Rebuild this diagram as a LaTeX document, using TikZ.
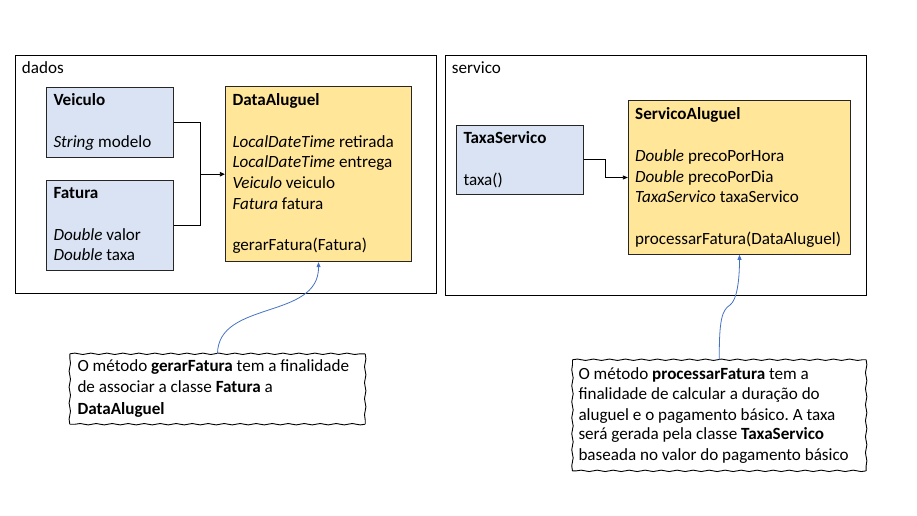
\documentclass[tikz,border=0pt]{standalone}
\usepackage{fontspec}
\setmainfont{Carlito}
\frenchspacing
\usetikzlibrary{arrows.meta,decorations.pathmorphing}
\definecolor{cblue}{HTML}{DAE3F3}
\definecolor{cyellow}{HTML}{FFE699}
\definecolor{clink}{HTML}{4472C4}
\tikzset{
  container/.style={draw=black,line width=0.9pt,inner sep=0pt},
  bluebox/.style={draw=black!85,fill=cblue,line width=0.9pt,inner sep=0pt},
  yellowbox/.style={draw=black!85,fill=cyellow,line width=0.9pt,inner sep=0pt},
  notebox/.style={fill=white,inner sep=0pt},
  wavy/.style={draw=black,line width=0.9pt,line join=round,decorate,decoration={snake,amplitude=0.7pt,segment length=16pt}},
  txt/.style={anchor=base west,inner sep=0pt,font=\fontsize{17.1}{20}\selectfont},
  conn/.style={draw=black,line width=0.8pt},
  link/.style={draw=clink,line width=0.8pt,-{Triangle[length=5pt,width=4pt]}},
}
\begin{document}
\begin{tikzpicture}[x=1pt,y=-1pt]
\useasboundingbox (0,0) rectangle (917,515);
% containers
\node[container,minimum width=421.5pt,minimum height=238pt] (dados) at (225.75,174) {};
\node[txt] (dadosT) at (21.7,73.3) {dados};
\node[container,minimum width=421.5pt,minimum height=240pt] (servico) at (655.75,175) {};
\node[txt] (servicoT) at (451.7,73.3) {servico};
% Veiculo
\node[bluebox,minimum width=127.5pt,minimum height=70pt] (veiculo) at (109.75,122.3) {};
\node[txt] (veiculo1) at (53.3,105) {\textbf{Veiculo}};
\node[txt] (veiculo2) at (53.3,147) {\textit{String} modelo};
% Fatura
\node[bluebox,minimum width=127.5pt,minimum height=90pt] (fatura) at (109.75,225) {};
\node[txt] (fatura1) at (53.3,198) {\textbf{Fatura}};
\node[txt] (fatura2) at (53.3,240) {\textit{Double} valor};
\node[txt] (fatura3) at (53.3,260.7) {\textit{Double} taxa};
% DataAluguel
\node[yellowbox,minimum width=186.4pt,minimum height=175pt] (da) at (318.5,174.2) {};
\node[txt] (da1) at (232.3,105) {\textbf{DataAluguel}};
\node[txt] (da2) at (232.3,147) {\textit{LocalDateTime} retirada};
\node[txt] (da3) at (232.3,167.7) {\textit{LocalDateTime} entrega};
\node[txt] (da4) at (232.3,188.4) {\textit{Veiculo} veiculo};
\node[txt] (da5) at (232.3,209) {\textit{Fatura} fatura};
\node[txt] (da6) at (232.3,250.7) {gerarFatura(Fatura)};
% TaxaServico
\node[bluebox,minimum width=127.3pt,minimum height=69.3pt] (ts) at (519.7,159.7) {};
\node[txt] (ts1) at (463.3,143.3) {\textbf{TaxaServico}};
\node[txt] (ts2) at (463.3,185) {taxa()};
% ServicoAluguel
\node[yellowbox,minimum width=222.4pt,minimum height=153.6pt] (sa) at (739.5,177.5) {};
\node[txt] (sa1) at (635,119.3) {\textbf{ServicoAluguel}};
\node[txt] (sa2) at (635,161.7) {\textit{Double} precoPorHora};
\node[txt] (sa3) at (635,182.3) {\textit{Double} precoPorDia};
\node[txt] (sa4) at (635,202.7) {\textit{TaxaServico} taxaServico};
\node[txt] (sa5) at (635,244) {processarFatura(DataAluguel)};
% connectors
\coordinate (j1) at (200,174.2);
\draw[conn] (veiculo.east) -| (j1);
\draw[conn] (fatura.east) -| (j1);
\draw[conn,-{Triangle[length=5pt,width=4.5pt]}] (j1) -- (da.west);
\coordinate (j2) at (605.7,177.5);
\draw[conn,-{Triangle[length=5pt,width=4pt]}] (ts.east) -| (j2) -- (sa.west);
% notes
\node[notebox,minimum width=295pt,minimum height=70pt] (note1) at (217.5,389) {};
\draw[wavy] (note1.north west) -- (note1.north east);
\draw[wavy] (note1.north east) -- (note1.south east);
\draw[wavy] (note1.south east) -- (note1.south west);
\draw[wavy] (note1.south west) -- (note1.north west);
\node[txt] (n11) at (77.3,371.7) {O método \textbf{gerarFatura} tem a finalidade};
\node[txt] (n12) at (77.3,392.7) {de associar a classe \textbf{Fatura} a};
\node[txt] (n13) at (77.3,414) {\textbf{DataAluguel}};
\node[notebox,minimum width=293.3pt,minimum height=110.7pt] (note2) at (719.3,415.3) {};
\draw[wavy] (note2.north west) -- (note2.north east);
\draw[wavy] (note2.north east) -- (note2.south east);
\draw[wavy] (note2.south east) -- (note2.south west);
\draw[wavy] (note2.south west) -- (note2.north west);
\node[txt] (n21) at (578.3,379.3) {O método \textbf{processarFatura} tem a};
\node[txt] (n22) at (578.3,399.5) {finalidade de calcular a duração do};
\node[txt] (n23) at (578.3,420) {aluguel e o pagamento básico. A taxa};
\node[txt] (n24) at (578.3,439.6) {será gerada pela classe \textbf{TaxaServico}};
\node[txt] (n25) at (578.3,460) {baseada no valor do pagamento básico};
% links
\draw[link] (note1.north) .. controls (218,300) and (319,320) .. (da.south);
\draw[link] (note2.north) .. controls (719,320) and (722,310) .. (730,305) .. controls (737,300) and (739.5,280) .. (sa.south);
\end{tikzpicture}
\end{document}
